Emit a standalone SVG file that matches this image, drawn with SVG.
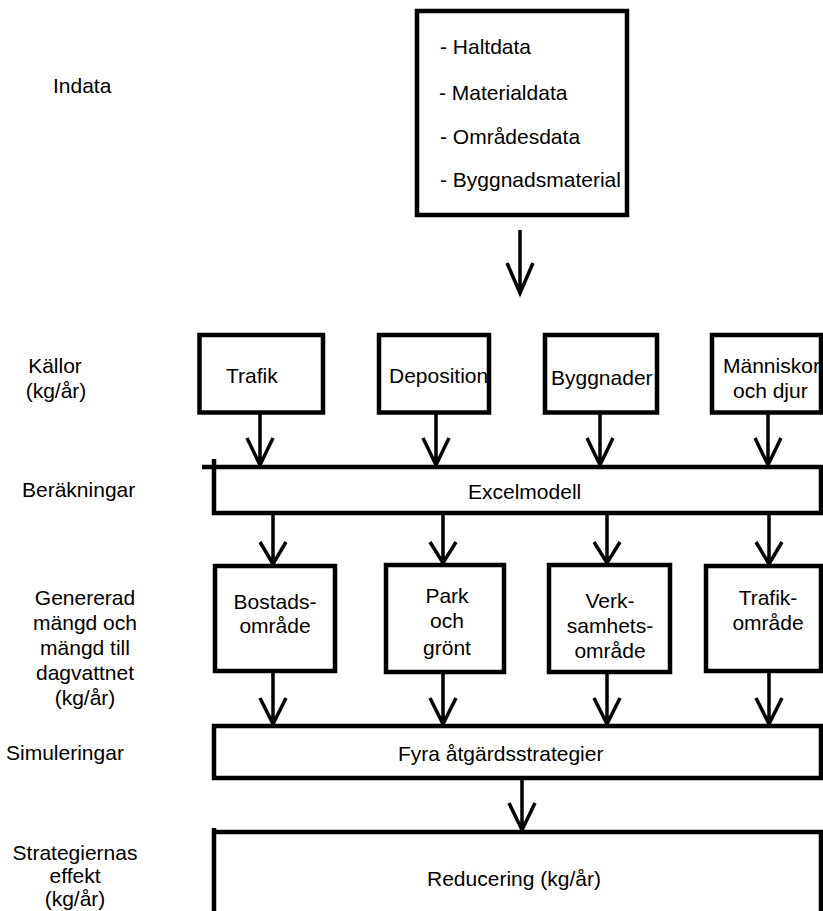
<svg xmlns="http://www.w3.org/2000/svg" width="823" height="911" viewBox="0 0 823 911">
<style>
  .box { fill: #fff; stroke: #000; stroke-width: 4.5; }
  .ln { fill: none; stroke: #000; stroke-width: 4.5; }
  .t { font-family: "Liberation Sans", Arial, sans-serif; font-size: 21px; fill: #000; }
  .c { text-anchor: middle; }
  .arr { fill: none; stroke: #000; stroke-width: 3.5; stroke-linejoin: miter; }
</style>
<rect width="823" height="911" fill="#fff"/>

<g id="labels">
  <text class="t" x="53" y="93">Indata</text>
  <text class="t c" x="55" y="373">Källor</text>
  <text class="t c" x="56" y="398">(kg/år)</text>
  <text class="t" x="22" y="497">Beräkningar</text>
  <text class="t c" x="85" y="605">Genererad</text>
  <text class="t c" x="85" y="630">mängd och</text>
  <text class="t c" x="85" y="655">mängd till</text>
  <text class="t c" x="85" y="680">dagvattnet</text>
  <text class="t c" x="85" y="705">(kg/år)</text>
  <text class="t" x="6" y="760">Simuleringar</text>
  <text class="t c" x="75" y="860">Strategiernas</text>
  <text class="t c" x="75" y="883">effekt</text>
  <text class="t c" x="75" y="906">(kg/år)</text>
</g>

<g id="indata">
  <rect class="box" x="417" y="11" width="210" height="204"/>
  <text class="t" x="440" y="54">- Haltdata</text>
  <text class="t" x="439" y="100">- Materialdata</text>
  <text class="t" x="440" y="144">- Områdesdata</text>
  <text class="t" x="440" y="187">- Byggnadsmaterial</text>
</g>

<g id="trafik">
  <rect class="box" x="199.5" y="335" width="123.5" height="77.5"/>
  <text class="t" x="226" y="383">Trafik</text>
</g>
<g id="deposition">
  <rect class="box" x="379" y="335" width="110" height="77.5"/>
  <text class="t" x="389" y="383">Deposition</text>
</g>
<g id="byggnader">
  <rect class="box" x="545" y="335" width="112" height="77.5"/>
  <text class="t" x="551" y="385">Byggnader</text>
</g>
<g id="manniskor">
  <rect class="box" x="712" y="335" width="109" height="77.5"/>
  <text class="t" x="723" y="373">Människor</text>
  <text class="t" x="733" y="398">och djur</text>
</g>

<g id="excelmodell">
  <rect class="box" x="214" y="467" width="607" height="46" style="stroke:none"/>
  <path class="ln" d="M202,467 H821 V513 H214 V459"/>
  <text class="t" x="468" y="499">Excelmodell</text>
</g>

<g id="bostad">
  <rect class="box" x="215" y="566" width="120" height="105"/>
  <text class="t c" x="275" y="609">Bostads-</text>
  <text class="t c" x="275" y="633">område</text>
</g>
<g id="park">
  <rect class="box" x="386" y="565" width="118" height="107"/>
  <text class="t c" x="447" y="603">Park</text>
  <text class="t c" x="447" y="628">och</text>
  <text class="t c" x="447" y="655">grönt</text>
</g>
<g id="verksamhet">
  <rect class="box" x="549" y="565" width="121" height="107"/>
  <text class="t c" x="610" y="608">Verk-</text>
  <text class="t c" x="610" y="633">samhets-</text>
  <text class="t c" x="610" y="658">område</text>
</g>
<g id="trafikomrade">
  <rect class="box" x="706" y="566" width="115" height="105"/>
  <text class="t c" x="768" y="605">Trafik-</text>
  <text class="t c" x="768" y="630">område</text>
</g>

<g id="fyra">
  <rect class="box" x="214" y="726" width="607" height="52"/>
  <text class="t" x="398" y="761">Fyra åtgärdsstrategier</text>
</g>

<g id="reducering">
  <rect class="box" x="214" y="832" width="607" height="85" style="stroke:none"/>
  <path class="ln" d="M214,828 V917 M214,832 H821 V917"/>
  <text class="t" x="427" y="886">Reducering (kg/år)</text>
</g>

<g id="connectors">
  <path class="arr" d="M520,230 V293 M507,263 L520,293 L533,263"/>

  <path class="arr" d="M260,413 V465 M247,438 L260,465 L273,438"/>
  <path class="arr" d="M436,413 V465 M423,438 L436,465 L449,438"/>
  <path class="arr" d="M600,413 V465 M587,438 L600,465 L613,438"/>
  <path class="arr" d="M768,413 V465 M755,438 L768,465 L781,438"/>

  <path class="arr" d="M273,513 V564 M260,542 L273,564 L286,542"/>
  <path class="arr" d="M443,513 V563 M430,542 L443,563 L456,542"/>
  <path class="arr" d="M607,513 V563 M594,542 L607,563 L620,542"/>
  <path class="arr" d="M769,513 V564 M756,542 L769,564 L782,542"/>

  <path class="arr" d="M273,672 V724 M260,698 L273,724 L286,698"/>
  <path class="arr" d="M443,672 V724 M430,698 L443,724 L456,698"/>
  <path class="arr" d="M607,672 V724 M594,698 L607,724 L620,698"/>
  <path class="arr" d="M769,672 V724 M756,698 L769,724 L782,698"/>

  <path class="arr" d="M522,778 V830 M509,803 L522,830 L535,803"/>
</g>
</svg>
